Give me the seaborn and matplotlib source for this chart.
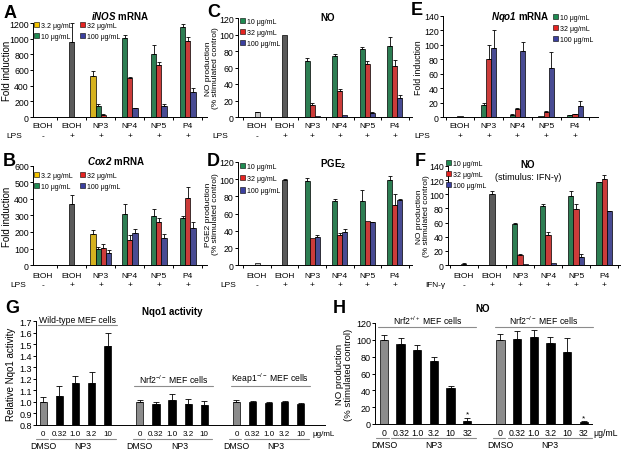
import numpy as np
import pandas as pd
import matplotlib
matplotlib.use("Agg")
import matplotlib.pyplot as plt
import matplotlib.ticker as mticker
from matplotlib.transforms import offset_copy
import seaborn as sns
from matplotlib.patches import Patch

sns.set_style("ticks")
plt.rcParams["font.family"] = ["Liberation Sans", "DejaVu Sans"]
plt.rcParams["mathtext.fontset"] = "custom"
plt.rcParams["mathtext.rm"] = "Liberation Sans"
plt.rcParams["mathtext.it"] = "Liberation Sans:italic"
plt.rcParams["mathtext.bf"] = "Liberation Sans:bold"
plt.rcParams["mathtext.bfit"] = "Liberation Sans:italic:bold"
plt.rcParams["mathtext.default"] = "regular"
plt.rcParams["text.color"] = "black"
plt.rcParams["axes.labelcolor"] = "black"

nan = np.nan

# ---------------- data ----------------
stim_cats = ["EtOH-", "EtOH+", "NP3", "NP4", "NP5", "P4"]
stim_labels = ["EtOH", "EtOH", "NP3", "NP4", "NP5", "P4"]
stim_signs = ["-", "+", "+", "+", "+", "+"]
nqo_cats = ["EtOH+", "NP3", "NP4", "NP5", "P4"]
nqo_labels = ["EtOH", "NP3", "NP4", "NP5", "P4"]
nqo_signs = ["+", "+", "+", "+", "+"]
compounds = ["NP3", "NP4", "NP5", "P4"]
doses4 = ["3.2 μg/mL", "10 μg/mL", "32 μg/mL", "100 μg/mL"]
doses3 = ["10 μg/mL", "32 μg/mL", "100 μg/mL"]

# A: iNOS mRNA (fold induction)
a_ctrl = [3, 960]
a_ctrl_err = [0, 240]
a_d3 = [520, nan, nan, nan]
a_d3_err = [70, 0, 0, 0]
a_d10 = [140, 1010, 800, 1150]
a_d10_err = [25, 35, 120, 40]
a_d32 = [30, 500, 670, 970]
a_d32_err = [6, 10, 30, 45]
a_d100 = [3, 110, 140, 320]
a_d100_err = [0, 10, 25, 50]

# B: Cox2 mRNA
b_ctrl = [2, 370]
b_ctrl_err = [0, 55]
b_d3 = [185, nan, nan, nan]
b_d3_err = [30, 0, 0, 0]
b_d10 = [95, 310, 295, 285]
b_d10_err = [15, 60, 45, 10]
b_d32 = [105, 150, 260, 405]
b_d32_err = [25, 30, 25, 70]
b_d100 = [75, 195, 165, 225]
b_d100_err = [15, 25, 25, 35]

# C: NO (% stimulated control)
c_ctrl = [6, 100]
c_ctrl_err = [0.5, 0]
c_d10 = [68, 74, 82, 86]
c_d10_err = [4, 2, 3, 11]
c_d32 = [15, 31, 64, 62]
c_d32_err = [2, 3, 4, 7]
c_d100 = [1.5, 2, 5, 23]
c_d100_err = [0, 0, 1, 4]

# D: PGE2 (% stimulated control)
d_ctrl = [2, 99]
d_ctrl_err = [0, 1]
d_d10 = [98, 75, 75, 99]
d_d10_err = [3, 2, 12, 5]
d_d32 = [31, 35, 51, 70]
d_d32_err = [0, 2, 0, 13]
d_d100 = [33, 38, 50, 76]
d_d100_err = [2, 4, 0.5, 1]

# E: Nqo1 mRNA
e_ctrl = [1]
e_ctrl_err = [0]
e_d10 = [17, 3, 1.5, 2.5]
e_d10_err = [3, 0.5, 0, 0.5]
e_d32 = [80, 11, 7, 4]
e_d32_err = [20, 2, 1, 0.5]
e_d100 = [96, 92, 68, 15]
e_d100_err = [24, 12, 22, 7]

# F: NO, stimulus IFN-gamma
f_ctrl = [2, 100]
f_ctrl_err = [0.5, 5]
f_d10 = [58, 84, 98, 117]
f_d10_err = [1, 2, 6, 1]
f_d32 = [14, 42, 79, 122]
f_d32_err = [2, 4, 7, 5]
f_d100 = [1, 3, 12, 76]
f_d100_err = [0, 0, 4, 0.5]

# G: Nqo1 activity
g_doses = ["0", "0.32", "1.0", "3.2", "10"]
g_groups = ["Wild-type MEF cells", r"Nrf2$^{-/-}$ MEF cells", r"Keap1$^{-/-}$ MEF cells"]
g_wt = [1.00, 1.05, 1.165, 1.16, 1.48]
g_wt_err = [0.045, 0.09, 0.06, 0.10, 0.115]
g_nrf2ko = [1.00, 0.985, 1.02, 0.98, 0.97]
g_nrf2ko_err = [0.02, 0.01, 0.05, 0.045, 0.04]
g_keap1ko = [1.00, 1.00, 0.99, 1.00, 0.985]
g_keap1ko_err = [0.015, 0.01, 0.01, 0.005, 0.005]

# H: NO in MEF cells
h_doses = ["0", "0.32", "1.0", "3.2", "10", "32"]
h_groups = [r"Nrf2$^{+/+}$ MEF cells", r"Nrf2$^{-/-}$ MEF cells"]
h_wt = [100, 95, 88, 75, 43, 3]
h_wt_err = [6, 7, 6, 5, 2, 4]
h_ko = [100, 101, 103, 96, 85, 2]
h_ko_err = [7, 9, 9, 7, 17, 1]

# ---------------- style ----------------
YEL, GRN, RED, BLU = "#f5c400", "#1f8c52", "#e52421", "#3b40a0"
LGREY, DGREY, MGREY = "#c8c8c8", "#5a5a5a", "#8c8c8c"
dose4_colors = [YEL, GRN, RED, BLU]
dose3_colors = [GRN, RED, BLU]

W, H = 622, 456
fig = plt.figure(figsize=(W / 100, H / 100), dpi=100)
PT = 0.72  # points per pixel


def px_ax(l, r, t, b):
    return fig.add_axes([l / W, 1 - b / H, (r - l) / W, (b - t) / H])


def errbar(ax, x, y, e, cap=1.4):
    ax.errorbar([x], [y], yerr=[[0], [e]], fmt="none", ecolor="black",
                elinewidth=0.6, capsize=cap, capthick=0.6, zorder=3)


def style(ax, ylim, yticks, xlim, tsize=6.3):
    ax.set_ylim(*ylim)
    ax.set_yticks(yticks)
    ax.set_xlim(*xlim)
    ax.set_xlabel("")
    ax.set_ylabel("")
    sns.despine(ax=ax)
    for s in ["left", "bottom"]:
        ax.spines[s].set_linewidth(0.7)
        ax.spines[s].set_color("black")
    ax.tick_params(axis="y", labelsize=tsize, length=2, width=0.7, pad=1,
                   colors="black")
    ax.set_xticks([])


def fig_text(x, y, s, **kw):
    fig.text(x / W, 1 - y / H, s, **kw)


def legend(ax, names, colors, x, y, ncol=1, spacing=0.55):
    handles = [Patch(facecolor=c, edgecolor="black", linewidth=0.4, label=n)
               for n, c in zip(names, colors)]
    ax.legend(handles=handles, loc="upper left", bbox_to_anchor=(x / W, 1 - y / H),
              bbox_transform=fig.transFigure, frameon=False, fontsize=5,
              handlelength=0.75, handleheight=0.75, handletextpad=0.3,
              labelspacing=spacing, borderpad=0, borderaxespad=0, ncol=ncol,
              columnspacing=1.0)


def bar_panel(rect, cats, labels, signs, stim, stim_x, ctrl_keys, ctrl_vals,
              ctrl_errs, ctrl_colors, dose_names, dose_vals, dose_errs,
              dose_colors, ylim, yticks, xlim, ylabel, ylab_x, ylab_size, row_dy):
    ax = px_ax(*rect)
    bw = 0.18
    cdf = pd.DataFrame({"cat": ctrl_keys, "val": ctrl_vals})
    sns.barplot(data=cdf, x="cat", y="val", hue="cat", order=cats,
                hue_order=ctrl_keys, palette=dict(zip(ctrl_keys, ctrl_colors)),
                width=bw, dodge=False, legend=False, errorbar=None,
                edgecolor="black", linewidth=0.5, ax=ax)
    for k, v, e in zip(ctrl_keys, ctrl_vals, ctrl_errs):
        if e > 0:
            errbar(ax, cats.index(k), v, e)
    groups = {}
    for ci in range(len(compounds)):
        present = tuple(j for j in range(len(dose_names))
                        if not np.isnan(dose_vals[j][ci]))
        groups.setdefault(present, []).append(ci)
    for present, cis in groups.items():
        names = [dose_names[j] for j in present]
        rows = [(compounds[ci], dose_names[j], dose_vals[j][ci])
                for j in present for ci in cis]
        d = pd.DataFrame(rows, columns=["cat", "dose", "val"])
        n = len(names)
        sns.barplot(data=d, x="cat", y="val", hue="dose", order=cats,
                    hue_order=names,
                    palette={nm: dose_colors[dose_names.index(nm)] for nm in names},
                    width=bw * n, dodge=True, legend=False, errorbar=None,
                    edgecolor="black", linewidth=0.5, ax=ax)
        for k, j in enumerate(present):
            for ci in cis:
                e = dose_errs[j][ci]
                if e > 0:
                    x = cats.index(compounds[ci]) - bw * n / 2 + bw * (k + 0.5)
                    errbar(ax, x, dose_vals[j][ci], e)
    style(ax, ylim, yticks, xlim)
    nc = len(cats)
    ax.set_xticks([i + 0.5 for i in range(-1, nc) if xlim[0] < i + 0.5 < xlim[1]],
                  minor=True)
    ax.tick_params(axis="x", which="minor", length=2.5, width=0.7, color="black")
    for i, (lab, sg) in enumerate(zip(labels, signs)):
        ax.annotate(lab, xy=(i, 0), xycoords=("data", "axes fraction"),
                    xytext=(0, -row_dy[0] * PT), textcoords="offset points",
                    ha="center", va="center", fontsize=6)
        ax.annotate(sg, xy=(i, 0), xycoords=("data", "axes fraction"),
                    xytext=(0, -row_dy[1] * PT), textcoords="offset points",
                    ha="center", va="center", fontsize=6)
    fig_text(stim_x, rect[3] + row_dy[1], stim, ha="center", va="center", fontsize=6)
    ax.set_ylabel(ylabel, fontsize=ylab_size, linespacing=1.0)
    ax.yaxis.set_label_coords((ylab_x - rect[0]) / (rect[1] - rect[0]), 0.5)
    return ax


def cell_panel(rect, group_vals, group_errs, doses, ylim, yticks, xlim, bw):
    ax = px_ax(*rect)
    keys, vals, errs, cols, order, idx = [], [], [], [], [], []
    for gi, (gv, ge) in enumerate(zip(group_vals, group_errs)):
        if gi > 0:
            order.append(f"gap{gi}")
        gidx = []
        for di, dname in enumerate(doses):
            k = f"g{gi}_{dname}"
            order.append(k)
            keys.append(k)
            vals.append(gv[di])
            errs.append(ge[di])
            cols.append(MGREY if di == 0 else "black")
            gidx.append(len(order) - 1)
        idx.append(gidx)
    df = pd.DataFrame({"cat": keys, "val": vals})
    sns.barplot(data=df, x="cat", y="val", hue="cat", order=order,
                hue_order=keys, palette=dict(zip(keys, cols)), width=bw,
                dodge=False, legend=False, errorbar=None, edgecolor="black",
                linewidth=0.5, ax=ax)
    for k, v, e in zip(keys, vals, errs):
        errbar(ax, order.index(k), v, e, cap=2.0)
    style(ax, ylim, yticks, xlim, tsize=6.5)
    return ax, idx


def under_labels(ax, idx, doses, last_unit_dx, fs):
    tl = offset_copy(ax.get_xaxis_transform(), fig=fig, x=0, y=-14, units="dots")
    for gidx in idx:
        for i, dname in zip(gidx, doses):
            ax.annotate(dname, xy=(i, 0), xycoords=("data", "axes fraction"),
                        xytext=(0, -8.5 * PT), textcoords="offset points",
                        ha="center", va="center", fontsize=fs)
        i0, i1 = gidx[0], gidx[-1]
        for lo, hi, txt in [(i0 - 0.45, i0 + 0.3, "DMSO"), (i0 + 0.45, i1 + 0.5, "NP3")]:
            ax.plot([lo, hi], [0, 0], transform=tl, color=MGREY, lw=0.8,
                    clip_on=False)
            ax.annotate(txt, xy=((lo + hi) / 2 if txt == "NP3" else i0, 0),
                        xycoords=("data", "axes fraction"),
                        xytext=(0, -20.5 * PT), textcoords="offset points",
                        ha="center", va="center", fontsize=6.3)
    ax.annotate("μg/mL", xy=(idx[-1][-1], 0), xycoords=("data", "axes fraction"),
                xytext=(last_unit_dx * PT, -8.5 * PT), textcoords="offset points",
                ha="left", va="center", fontsize=fs)


def brackets(ax, idx, names, ys):
    for gidx, nm, y in zip(idx, names, ys):
        lo, hi = gidx[0] - 0.35, gidx[-1] + 0.55
        ax.plot([lo, hi], [y, y], color=MGREY, lw=0.8, clip_on=False)
        ax.annotate(nm, xy=((lo + hi) / 2, y), xytext=(0, 1), textcoords="offset points",
                    ha="center", va="bottom", fontsize=6.2, annotation_clip=False)


# ---------------- panels ----------------
axA = bar_panel((33, 207, 24, 118), stim_cats, stim_labels, stim_signs, "LPS", 14,
                ["EtOH-", "EtOH+"], a_ctrl, a_ctrl_err, [LGREY, DGREY],
                doses4, [a_d3, a_d10, a_d32, a_d100],
                [a_d3_err, a_d10_err, a_d32_err, a_d100_err], dose4_colors,
                (0, 1200), range(0, 1201, 200), (-0.34, 5.66),
                "Fold induction", 12, 7, (9, 18.5))
legend(axA, doses4, dose4_colors, 34, 23, ncol=2)

axB = bar_panel((33, 207, 167, 266), stim_cats, stim_labels, stim_signs, "LPS", 18,
                ["EtOH-", "EtOH+"], b_ctrl, b_ctrl_err, [LGREY, DGREY],
                doses4, [b_d3, b_d10, b_d32, b_d100],
                [b_d3_err, b_d10_err, b_d32_err, b_d100_err], dose4_colors,
                (0, 600), range(0, 601, 100), (-0.34, 5.66),
                "Fold induction", 12, 7, (10.5, 20))
legend(axB, doses4, dose4_colors, 34, 173, ncol=2)

axC = bar_panel((238, 412, 19, 118), stim_cats, stim_labels, stim_signs, "LPS", 220,
                ["EtOH-", "EtOH+"], c_ctrl, c_ctrl_err, [LGREY, DGREY],
                doses3, [c_d10, c_d32, c_d100], [c_d10_err, c_d32_err, c_d100_err],
                dose3_colors, (0, 120), range(0, 121, 20), (-0.69, 5.62),
                "NO production\n(% stimulated control)", 219, 6, (9, 18.5))
legend(axC, doses3, dose3_colors, 240, 19)

axD = bar_panel((238, 412, 163, 266), stim_cats, stim_labels, stim_signs, "LPS", 228,
                ["EtOH-", "EtOH+"], d_ctrl, d_ctrl_err, [LGREY, DGREY],
                doses3, [d_d10, d_d32, d_d100], [d_d10_err, d_d32_err, d_d100_err],
                dose3_colors, (0, 120), range(0, 121, 20), (-0.69, 5.62),
                "PGE2 production\n(% stimulated control)", 219, 6, (10.5, 20))
legend(axD, doses3, dose3_colors, 240, 164, spacing=0.75)

axE = bar_panel((443, 598, 17, 118), nqo_cats, nqo_labels, nqo_signs, "LPS", 422,
                ["EtOH+"], e_ctrl, e_ctrl_err, [DGREY],
                doses3, [e_d10, e_d32, e_d100], [e_d10_err, e_d32_err, e_d100_err],
                dose3_colors, (0, 140), range(0, 141, 20), (-0.59, 4.8),
                "Fold induction", 423, 6.3, (9, 18.5))
legend(axE, doses3, dose3_colors, 553, 15)

axF = bar_panel((448, 620, 167, 266), stim_cats, stim_labels, stim_signs, "IFN-γ", 435,
                ["EtOH-", "EtOH+"], f_ctrl, f_ctrl_err, [LGREY, DGREY],
                doses3, [f_d10, f_d32, f_d100], [f_d10_err, f_d32_err, f_d100_err],
                dose3_colors, (0, 140), range(0, 141, 20), (-0.57, 5.57),
                "NO production\n(% stimulated control)", 430, 6, (10.5, 20))
legend(axF, doses3, dose3_colors, 446, 161, spacing=0.6)

axG, g_idx = cell_panel((36, 325, 322, 426), [g_wt, g_nrf2ko, g_keap1ko],
                        [g_wt_err, g_nrf2ko_err, g_keap1ko_err], g_doses,
                        (0.8, 1.7), np.round(np.arange(0.8, 1.71, 0.1), 1),
                        (-0.45, 17.5), 0.45)
axG.yaxis.set_major_formatter(mticker.FormatStrFormatter("%.1f"))
axG.set_ylabel("Relative Nqo1 activity", fontsize=7)
axG.yaxis.set_label_coords((16 - 36) / (325 - 36), 0.5)
brackets(axG, g_idx, g_groups, [1.665, 1.138, 1.138])
under_labels(axG, g_idx, g_doses, 12, 5.8)

axH, h_idx = cell_panel((375, 592, 324, 425), [h_wt, h_ko], [h_wt_err, h_ko_err],
                        h_doses, (0, 120), range(0, 121, 20), (-0.54, 12.5), 0.5)
axH.set_ylabel("NO production\n(% stimulated control)", fontsize=6.8, linespacing=1.05)
axH.yaxis.set_label_coords((353 - 375) / (592 - 375), 0.5)
brackets(axH, h_idx, h_groups, [115.2, 115.2])
under_labels(axH, h_idx, h_doses, 10, 6.3)
for gidx, vals, errs in [(h_idx[0], h_wt, h_wt_err), (h_idx[1], h_ko, h_ko_err)]:
    axH.text(gidx[-1], vals[-1] + errs[-1] + 0.5, "*", ha="center", va="bottom",
             fontsize=6)

# ---------------- titles & letters ----------------
tkw = dict(ha="center", va="center", fontsize=7, fontweight="bold")
fig_text(120, 16, r"$\mathbfit{iNOS}$ mRNA", **tkw)
fig_text(116, 161, r"$\mathbfit{Cox2}$ mRNA", **tkw)
fig_text(328, 18, "NO", **tkw)
fig_text(333, 164, r"PGE$_\mathbf{2}$", **tkw)
fig_text(520, 17, r"$\mathbfit{Nqo1}$ mRNA", **tkw)
fig_text(528, 165, "NO", **tkw)
fig_text(528, 178, "(stimulus: IFN-γ)", ha="center", va="center", fontsize=6.5)
fig_text(172, 312, "Nqo1 activity", **tkw)
fig_text(483, 309, "NO", **tkw)

lkw = dict(ha="left", va="baseline", fontsize=13, fontweight="bold")
for letter, x, y in [("A", 4, 18), ("B", 3, 166), ("C", 207, 17), ("D", 207, 166),
                     ("E", 411, 15), ("F", 415, 166), ("G", 5, 313), ("H", 333, 313)]:
    fig_text(x, y, letter, **lkw)

fig.savefig("out.png", dpi=100)
